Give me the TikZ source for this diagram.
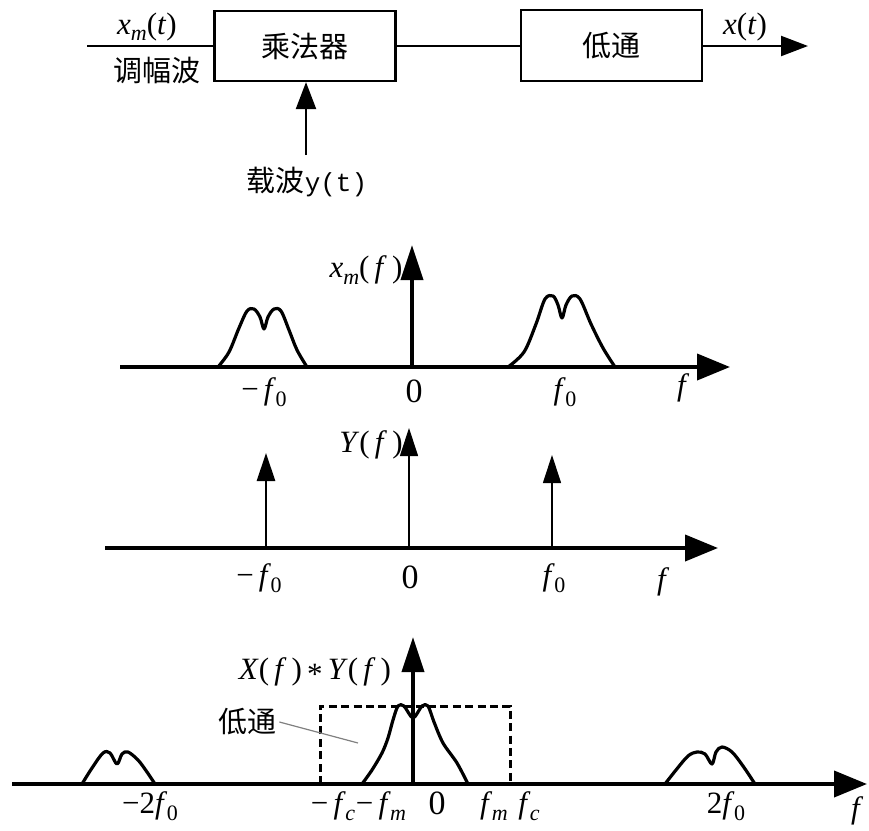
\documentclass[tikz,border=0pt]{standalone}
\usepackage{fontspec}
\setmainfont{Liberation Serif}
\newfontfamily\cjk{Noto Sans CJK SC}
\newfontfamily\monoy{Liberation Mono}
\usetikzlibrary{arrows.meta}
% lowered subscript for text-set formulas
\newcommand\lo[1]{\raisebox{-0.45ex}{\fontsize{11pt}{11pt}\selectfont #1}}
\newcommand\vf{\textit{f\kern0.1em}}
\newcommand\pf{(\,\textit{f}\,)}
\begin{document}
\begin{tikzpicture}[x=0.5pt,y=-0.5pt,
  blk/.style={draw, line width=1.1pt, minimum width=90.5pt, inner sep=0pt,
    font=\cjk\fontsize{14.5pt}{15pt}\selectfont},
  wire/.style={line width=1.1pt},
  sig/.style={line width=1.1pt, -{Triangle[length=13.5pt,width=10pt]}},
  axis/.style={line width=2pt, -{Triangle[length=16.5pt,width=13pt]}},
  spike/.style={-{Triangle[length=14pt,width=9pt]}},
  bump/.style={line width=1.6pt, line join=round},
  lbl/.style={inner sep=0pt, font=\fontsize{15.5pt}{16pt}\selectfont},
  zero/.style={inner sep=0pt, font=\fontsize{17pt}{18pt}\selectfont},
  cn/.style={inner sep=0pt, font=\cjk\fontsize{14.5pt}{15pt}\selectfont},
  lpbox/.style={line width=1.5pt, dash pattern=on 4pt off 2.2pt}
]
\useasboundingbox (0,0) rectangle (869,831);

% ---------- block diagram ----------
\node[blk, minimum height=35pt] (mul) at (305,46) {乘法器};
\node[blk, minimum height=35.5pt] (lp) at (611.5,45.5) {低通};
\coordinate (in) at (87,46);
\coordinate (out) at (808,46);
\coordinate (car) at (306,155);
\draw[wire] (in) -- (mul.west);
\draw[wire] (mul.east) -- (mul.east -| lp.west);
\draw[sig] (lp.east |- mul.east) -- (out);
\draw[sig] (car) -- (car |- mul.south);
\node[lbl] (xmt) at (147,27) {\textit{x}\lo{\textit{m}}(\textit{t})};
\node[cn] (am) at (157,70) {调幅波};
\node[lbl] (xt) at (745,27) {\textit{x}(\textit{t})};
\node[cn] (carl) at (307,182) {载波{\monoy\fontsize{13pt}{13pt}\selectfont y(t)}};

% ---------- spectrum of the AM signal ----------
\coordinate (a1s) at (120,367);
\coordinate (a1e) at (730,367);
\coordinate (o1) at (412,367);
\coordinate (o1t) at (412,245);
\draw[axis] (a1s) -- (a1e);
\draw[line width=2pt, -{Triangle[length=17.5pt,width=11pt]}] (o1) -- (o1t);
\draw[bump] plot[smooth, tension=0.55] coordinates {(218,367) (229,352) (239,328) (247,311) (254,309) (260,317) (264,329) (268,317) (274,309) (281,311) (289,330) (297,350) (307,367)};
\draw[bump] plot[smooth, tension=0.55] coordinates {(508,367) (524,352) (536,324) (545,299) (553,296) (558,305) (562,318) (566,305) (572,296) (580,299) (591,324) (603,348) (615,367)};
\node[lbl] (xmf) at (366,270) {\textit{x}\lo{\textit{m}}\pf};
\node[lbl] (m1) at (264,392) {−\,\vf\lo{0}};
\node[zero] (z1) at (414,391) {0};
\node[lbl] (p1) at (565,392) {\vf\lo{0}};
\node[lbl] (f1) at (683,388) {\vf};

% ---------- spectrum of the carrier ----------
\coordinate (a2s) at (105,548);
\coordinate (a2e) at (718,548);
\draw[axis] (a2s) -- (a2e);
\coordinate (y1) at (266,548);
\coordinate (y2) at (409,548);
\coordinate (y3) at (552,548);
\draw[spike, line width=1.4pt] (y1) -- (266,453);
\draw[spike, line width=0.6pt] (y2) -- (409,428);
\draw[spike, line width=0.6pt] (y3) -- (552,455);
\node[lbl] (yf) at (371,445) {\textit{Y}\pf};
\node[lbl] (m2) at (259,578) {−\,\vf\lo{0}};
\node[zero] (z2) at (410,577) {0};
\node[lbl] (p2) at (554,578) {\vf\lo{0}};
\node[lbl] (f2) at (663,582) {\vf};

% ---------- spectrum after the multiplier ----------
\coordinate (a3s) at (12,784);
\coordinate (a3e) at (867,784);
\coordinate (o3) at (413,784);
\coordinate (o3t) at (413,637);
\draw[axis] (a3s) -- (a3e);
\draw[bump] plot[smooth, tension=0.5] coordinates {(362,784) (372,770) (382,753) (388,738) (393,720) (398,706) (404,706) (413,718) (422,706) (428,706) (434,722) (443,743) (457,763) (468,784)};
\draw[line width=2pt, -{Triangle[length=17.5pt,width=11pt]}] (o3) -- (o3t);
\draw[bump] plot[smooth, tension=0.55] coordinates {(82,784) (92,768) (103,753) (110,753) (117,764) (122,754) (128,752) (138,760) (147,772) (155,784)};
\draw[bump] plot[smooth, tension=0.55] coordinates {(665,784) (676,770) (688,756) (697,752) (705,754) (712,764) (716,752) (722,747) (732,752) (743,766) (755,784)};
% ideal low-pass window
\coordinate (lpl) at (320,784);
\coordinate (lpr) at (510,784);
\draw[lpbox] (lpl) -- (320,706) -- (510,706) -- (lpr);
\node[cn] (lpt) at (247,722) {低通};
\coordinate (lead) at (358,743);
\draw[gray, line width=0.6pt] (lpt.east) ++(3,0) -- (lead);
\node[lbl] (xy) at (315,672) {\textit{X}\pf\,\raisebox{-0.35ex}{*}\,\textit{Y}\pf};
\node[lbl] (m3) at (150,806) {−2\vf\lo{0}};
\node[lbl] (mfc) at (333,806) {−\,\vf\lo{\textit{c}}};
\node[lbl] (mfm) at (381,806) {−\,\vf\lo{\textit{m}}};
\node[zero] (z3) at (437,803) {0};
\node[lbl] (pfm) at (494,806) {\vf\lo{\textit{m}}};
\node[lbl] (pfc) at (529,806) {\vf\lo{\textit{c}}};
\node[lbl] (p3) at (726,806) {2\vf\lo{0}};
\node[lbl] (f3) at (857,811) {\vf};
\end{tikzpicture}
\end{document}
